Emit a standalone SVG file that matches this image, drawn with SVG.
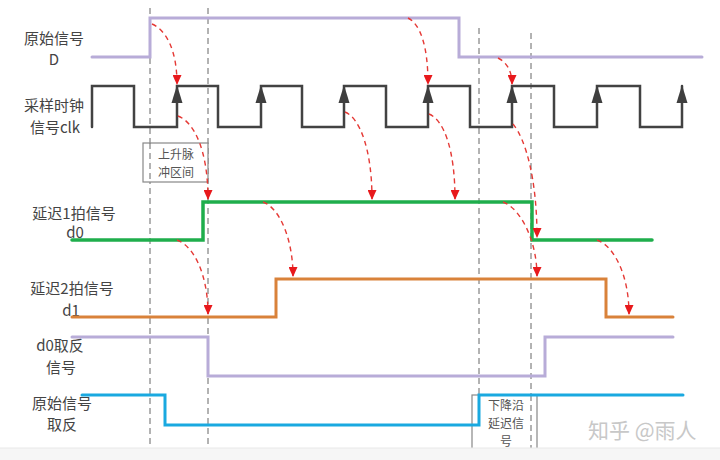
<svg xmlns="http://www.w3.org/2000/svg" width="720" height="460" viewBox="0 0 720 460">
<style>
.lbl{font-family:"Noto Sans CJK SC","Liberation Sans",sans-serif;font-size:15px;fill:#444;text-anchor:middle}
.box{fill:#fff;stroke:#888;stroke-width:1.2}
.btxt{font-family:"Noto Sans CJK SC","Liberation Sans",sans-serif;font-size:12px;fill:#555;text-anchor:middle}
.sig{fill:none;stroke-linejoin:miter;stroke-linecap:round}
.guide{stroke:#666;stroke-width:1;stroke-dasharray:6,4;fill:none}
.red{fill:none;stroke:#e53935;stroke-width:1.4;stroke-dasharray:5,4;marker-end:url(#rh)}
.wm{font-family:"Noto Sans CJK SC","Liberation Sans",sans-serif;font-size:21px;fill:#c8c8c8}
</style>
<defs>
<marker id="rh" markerUnits="userSpaceOnUse" markerWidth="10" markerHeight="9" refX="9" refY="4.5" orient="auto">
<path d="M0,0 L10,4.5 L0,9 z" fill="#e8191c"/>
</marker>
<polygon id="clkArr" points="0,-1 -5.5,17 5.5,17" fill="#3f3f3f"/>
</defs>
<rect x="0" y="0" width="720" height="460" fill="#fff"/>

<g id="guides">
<line class="guide" x1="150" y1="8" x2="150" y2="444"/>
<line class="guide" x1="208" y1="8" x2="208" y2="444"/>
<line class="guide" x1="479" y1="28" x2="479" y2="446"/>
<line class="guide" x1="531" y1="33" x2="531" y2="446"/>
</g>

<g id="labels">
<text class="lbl" x="54" y="44">原始信号</text>
<text class="lbl" x="54" y="65">D</text>
<text class="lbl" x="54" y="111">采样时钟</text>
<text class="lbl" x="55" y="133">信号clk</text>
<text class="lbl" x="74" y="219">延迟1拍信号</text>
<text class="lbl" x="75" y="238">d0</text>
<text class="lbl" x="72" y="294">延迟2拍信号</text>
<text class="lbl" x="71" y="316">d1</text>
<text class="lbl" x="60" y="351">d0取反</text>
<text class="lbl" x="61" y="373">信号</text>
<text class="lbl" x="62" y="409">原始信号</text>
<text class="lbl" x="62" y="430">取反</text>
</g>

<g id="sigD">
<path class="sig" d="M92,57 H150 V18 H459 V57 H702" stroke="#b8acd8" stroke-width="3"/>
</g>

<g id="sigClk">
<path class="sig" d="M92,127 V86 H134 V127 H177 V86 H218 V127 H261 V86 H302 V127 H344 V86 H386 V127 H428 V86 H470 V127 H512 V86 H554 V127 H597 V86 H640 V127 H682 V86" stroke="#424242" stroke-width="2.5"/>
<use href="#clkArr" x="177" y="86"/>
<use href="#clkArr" x="261" y="86"/>
<use href="#clkArr" x="344" y="86"/>
<use href="#clkArr" x="428" y="86"/>
<use href="#clkArr" x="512" y="86"/>
<use href="#clkArr" x="597" y="86"/>
<use href="#clkArr" x="682" y="86"/>
</g>

<g id="sigD0">
<path class="sig" d="M72,240 H203 V202 H532 V240 H652" stroke="#1fae4c" stroke-width="3.5"/>
</g>

<g id="sigD1">
<path class="sig" d="M72,317 H276 V279 H606 V317 H673" stroke="#d9823a" stroke-width="3"/>
</g>

<g id="sigD0n">
<path class="sig" d="M72,337 H208 V376 H545 V337 H673" stroke="#b8acd8" stroke-width="3"/>
</g>

<g id="boxRise">
<rect class="box" x="143" y="143" width="65" height="39"/>
<line class="guide" x1="150" y1="143" x2="150" y2="182"/>
<text class="btxt" x="176" y="159">上升脉</text>
<text class="btxt" x="176" y="177">冲区间</text>
</g>

<g id="boxFall">
<rect class="box" x="472" y="395" width="65" height="60"/>
<line class="guide" x1="531" y1="395" x2="531" y2="455"/>
<text class="btxt" x="506" y="410">下降沿</text>
<text class="btxt" x="506" y="428">延迟信</text>
<text class="btxt" x="506" y="446">号</text>
</g>

<g id="sigDn">
<path class="sig" d="M82,395 H165 V425 H479 V395 H683" stroke="#1aa9e0" stroke-width="3"/>
</g>

<g id="connectors">
<path class="red" d="M152,24 C166,30 177,50 177,84"/>
<path class="red" d="M408,18 C420,24 428,45 428,84"/>
<path class="red" d="M498,58 C506,62 512,70 512,84"/>
<path class="red" d="M178,116 C194,122 208,150 208,199"/>
<path class="red" d="M345,112 C360,118 372,150 372,199"/>
<path class="red" d="M429,114 C444,120 455,150 455,199"/>
<path class="red" d="M513,124 C526,140 537,180 537,237"/>
<path class="red" d="M503,202 C520,208 537,240 537,276"/>
<path class="red" d="M177,240 C194,246 208,275 208,314"/>
<path class="red" d="M263,202 C280,208 293,240 293,276"/>
<path class="red" d="M597,240 C614,246 629,275 629,314"/>
</g>

<g id="watermark">
<text class="wm" x="588" y="438">知乎 @雨人</text>
</g>
<rect x="0" y="448" width="720" height="12" fill="#f6f6f6"/>
<line x1="0" y1="448" x2="720" y2="448" stroke="#e8e8e8" stroke-width="1"/>
</svg>
